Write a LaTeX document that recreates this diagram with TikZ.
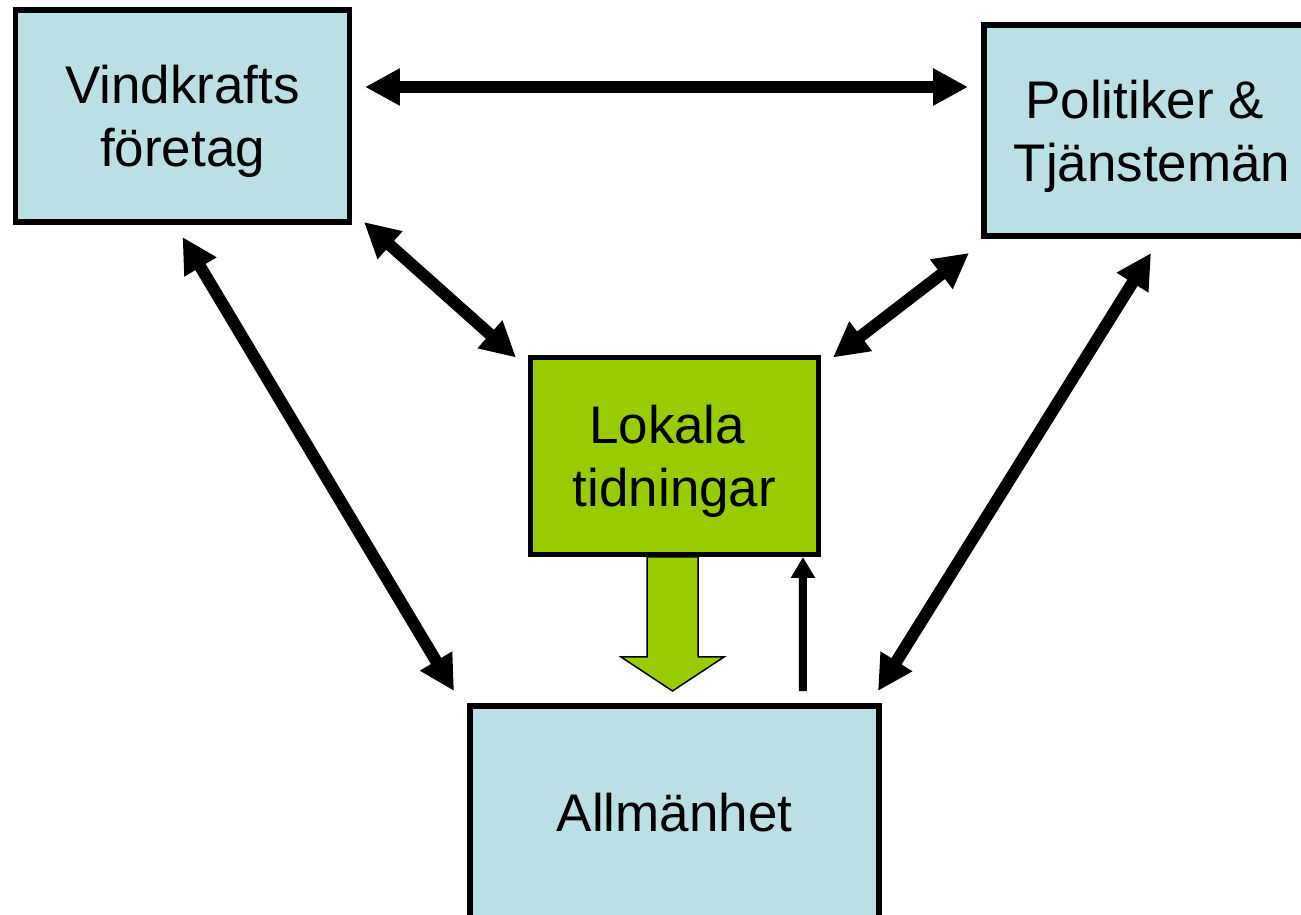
\documentclass[tikz,border=0pt]{standalone}
\usepackage{fontspec}
\setmainfont{Liberation Sans}
\usetikzlibrary{positioning,arrows.meta}
\definecolor{boxblue}{HTML}{BBE0E3}
\definecolor{newsgreen}{HTML}{99CC00}
\tikzstyle{actor} = [rectangle, draw=black, line width=0.11cm, fill=boxblue, outer sep=0pt, align=center, text depth=0pt, font=\fontsize{30.15pt}{35.85pt}\selectfont]
\tikzstyle{press} = [actor, fill=newsgreen]
\tikzstyle{link} = [line width=0.24cm, {Triangle[length=0.7cm,width=0.7cm]}-{Triangle[length=0.7cm,width=0.7cm]}]
\tikzstyle{reply} = [line width=0.16cm, -{Triangle[length=0.42cm,width=0.46cm]}]
\tikzstyle{flow} = [draw=black, line width=0.03cm, fill=newsgreen]

\begin{document}
\begin{tikzpicture}[x=0.02cm, y=-0.02cm]
\useasboundingbox (0,0) rectangle (1301,915);
\clip (0,0) rectangle (1301,915);

\node[actor, minimum width=6.68cm, minimum height=4.24cm] (vind) at (182.5,116) {Vindkrafts\\företag};
\node[actor, minimum width=6.72cm, minimum height=4.22cm] (pol) at (1152,130.5) {Politiker \&\kern.278em\\Tjänstemän};
\node[press, minimum width=5.76cm, minimum height=3.94cm] (lok) at (674.5,456) {Lokala\kern.278em\\tidningar};
\node[actor, minimum width=8.18cm, minimum height=4.24cm] (allm) at (674.5,812) {Allmänhet};

% dialog mellan aktorerna
\draw[link] ([shift={(15.5,-29)}]vind.east) -- ([shift={(-16,-43.5)}]pol.west);
\draw[link] ([shift={(14.5,0)}]vind.south east) -- ([shift={(-14.5,0)}]lok.north west);
\draw[link] ([shift={(-15,17)}]pol.south west) -- ([shift={(14.5,0)}]lok.north east);
\draw[link] ([shift={(0,15)}]vind.south) -- ([shift={(-16,-15)}]allm.north west);
\draw[link] ([shift={(-1,17)}]pol.south) -- ([shift={(-1,-15)}]allm.north east);

% tidningarna till allmanheten
\draw[flow] ([shift={(-27.5,2.5)}]lok.south) -- ++(0,100) -- ++(-26,0) -- ++(51.5,34) -- ++(51.5,-34) -- ++(-26,0) -- ++(0,-100) -- cycle;
\draw[reply] ([shift={(-76,-15)}]allm.north east) -- ([shift={(-15.5,2.5)}]lok.south east);

\end{tikzpicture}
\end{document}
